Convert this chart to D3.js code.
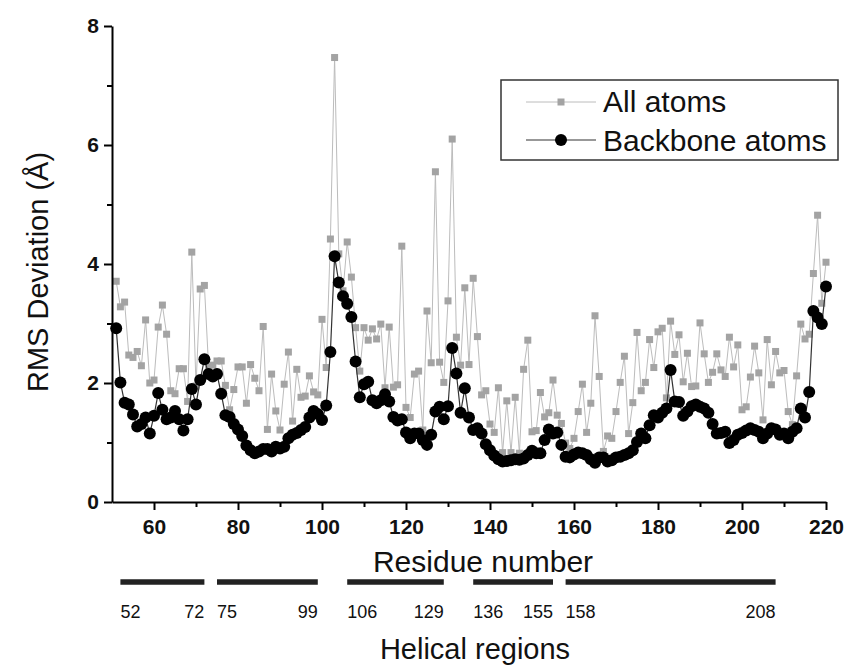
<!DOCTYPE html>
<html lang="en">
<head>
<meta charset="UTF-8">
<title>RMS Deviation per residue</title>
<script src="https://d3js.org/d3.v7.min.js"></script>
<style>
  body { margin: 0; background: #fff; }
  text { font-family: "Liberation Sans", Arial, sans-serif; fill: #111; }
</style>
</head>
<body>
<svg id="chart"></svg>
<script>
// residue numbers along the x axis
const residues = [
  51, 52, 53, 54, 55, 56, 57, 58, 59, 60, 61, 62, 63, 64, 65, 66, 67, 68, 69, 70,
  71, 72, 73, 74, 75, 76, 77, 78, 79, 80, 81, 82, 83, 84, 85, 86, 87, 88, 89, 90,
  91, 92, 93, 94, 95, 96, 97, 98, 99, 100, 101, 102, 103, 104, 105, 106, 107, 108, 109, 110,
  111, 112, 113, 114, 115, 116, 117, 118, 119, 120, 121, 122, 123, 124, 125, 126, 127, 128, 129, 130,
  131, 132, 133, 134, 135, 136, 137, 138, 139, 140, 141, 142, 143, 144, 145, 146, 147, 148, 149, 150,
  151, 152, 153, 154, 155, 156, 157, 158, 159, 160, 161, 162, 163, 164, 165, 166, 167, 168, 169, 170,
  171, 172, 173, 174, 175, 176, 177, 178, 179, 180, 181, 182, 183, 184, 185, 186, 187, 188, 189, 190,
  191, 192, 193, 194, 195, 196, 197, 198, 199, 200, 201, 202, 203, 204, 205, 206, 207, 208, 209, 210,
  211, 212, 213, 214, 215, 216, 217, 218, 219, 220
];

// RMS deviation, all atoms
const allAtoms = [
  3.71, 3.28, 3.36, 2.47, 2.43, 2.53, 2.29, 3.06, 2.00, 2.05, 2.94, 3.31, 2.82, 1.87, 1.82, 2.24, 2.24, 1.69, 4.20, 1.95,
  3.58, 3.64, 2.27, 2.30, 2.37, 2.37, 1.96, 1.55, 1.89, 2.27, 2.27, 1.66, 2.31, 2.08, 1.87, 2.95, 1.22, 2.15, 1.53, 1.21,
  1.98, 2.52, 1.36, 2.23, 1.76, 1.78, 2.12, 1.85, 1.80, 3.07, 2.26, 4.42, 7.47, 4.17, 3.55, 4.37, 3.78, 2.93, 2.20, 2.93,
  2.72, 2.91, 2.74, 2.99, 1.92, 2.94, 1.93, 1.97, 4.30, 1.59, 1.42, 2.15, 2.20, 1.21, 3.21, 2.34, 5.55, 2.35, 2.01, 3.38,
  6.10, 2.77, 2.30, 3.60, 2.31, 3.76, 2.78, 1.80, 1.87, 1.31, 1.17, 1.92, 0.83, 1.70, 0.83, 1.76, 0.82, 2.23, 2.72, 1.18,
  1.20, 1.84, 1.43, 1.50, 2.05, 1.46, 1.32, 0.99, 0.90, 1.07, 1.52, 1.98, 1.17, 1.66, 3.13, 2.11, 0.85, 1.11, 1.07, 1.52,
  2.01, 2.45, 1.15, 1.67, 2.85, 1.87, 2.01, 2.73, 2.26, 2.86, 2.92, 1.75, 3.04, 2.48, 2.81, 2.02, 2.50, 1.94, 1.95, 3.01,
  2.49, 2.01, 2.18, 2.49, 2.22, 2.11, 2.77, 2.27, 2.64, 1.55, 1.60, 2.10, 2.62, 2.17, 1.38, 2.73, 1.97, 2.53, 2.17, 2.21,
  1.52, 1.30, 2.12, 2.99, 2.74, 2.82, 3.84, 4.82, 3.34, 4.03
];

// RMS deviation, backbone atoms
const backbone = [
  2.92, 2.01, 1.67, 1.64, 1.47, 1.27, 1.31, 1.42, 1.15, 1.45, 1.83, 1.55, 1.39, 1.42, 1.53, 1.39, 1.20, 1.39, 1.90, 1.64,
  2.05, 2.40, 2.15, 2.11, 2.15, 1.82, 1.46, 1.43, 1.31, 1.22, 1.11, 0.95, 0.87, 0.82, 0.85, 0.89, 0.89, 0.85, 0.93, 0.90,
  0.93, 1.07, 1.13, 1.16, 1.21, 1.26, 1.42, 1.53, 1.48, 1.38, 1.62, 2.52, 4.13, 3.69, 3.46, 3.33, 3.11, 2.36, 1.76, 1.98,
  2.02, 1.71, 1.66, 1.71, 1.81, 1.69, 1.43, 1.37, 1.39, 1.17, 1.07, 1.15, 1.15, 1.04, 0.96, 1.13, 1.52, 1.60, 1.39, 1.61,
  2.59, 2.16, 1.50, 1.91, 1.42, 1.21, 1.24, 1.15, 0.97, 0.87, 0.78, 0.72, 0.68, 0.69, 0.70, 0.72, 0.71, 0.73, 0.79, 0.86,
  0.82, 0.82, 1.04, 1.22, 1.15, 1.17, 0.96, 0.76, 0.75, 0.80, 0.83, 0.82, 0.79, 0.72, 0.66, 0.75, 0.75, 0.68, 0.70, 0.75,
  0.76, 0.79, 0.82, 0.87, 1.01, 1.15, 1.07, 1.29, 1.46, 1.42, 1.50, 1.57, 2.22, 1.69, 1.68, 1.45, 1.52, 1.61, 1.64, 1.60,
  1.57, 1.50, 1.31, 1.15, 1.16, 1.18, 0.99, 1.04, 1.13, 1.16, 1.20, 1.24, 1.21, 1.18, 1.07, 1.15, 1.24, 1.22, 1.13, 1.15,
  1.07, 1.18, 1.24, 1.57, 1.42, 1.85, 3.21, 3.10, 2.99, 3.62
];

const xTicks = [60, 80, 100, 120, 140, 160, 180, 200, 220];
const xMinor = [70, 90, 110, 130, 150, 170, 190, 210];
const yTicks = [0, 2, 4, 6, 8];
const yMinor = [1, 3, 5, 7];

// helical regions (start / end residue)
const helixStart = [52, 75, 106, 136, 158];
const helixEnd = [72, 99, 129, 155, 208];

const width = 851;
const height = 666;

const svg = d3.select('#chart')
  .attr('width', width)
  .attr('height', height);

const x = d3.scaleLinear().domain([50, 220]).range([112, 826]);
const y = d3.scaleLinear().domain([0, 8]).range([502, 26]);

// series lines + markers (gray first, black on top)
const allPts = residues.map((r, i) => ({ r: r, v: allAtoms[i] }));
const bbPts = residues.map((r, i) => ({ r: r, v: backbone[i] }));

const line = d3.line().x(d => x(d.r)).y(d => y(d.v));

svg.append('path')
  .datum(allPts)
  .attr('d', line)
  .attr('fill', 'none')
  .attr('stroke', '#bcbcbc')
  .attr('stroke-width', 1);

svg.selectAll('.sq')
  .data(allPts)
  .enter().append('rect')
  .attr('class', 'sq')
  .attr('x', d => x(d.r) - 3.5)
  .attr('y', d => y(d.v) - 3.5)
  .attr('width', 7)
  .attr('height', 7)
  .attr('fill', '#a3a3a3');

svg.append('path')
  .datum(bbPts)
  .attr('d', line)
  .attr('fill', 'none')
  .attr('stroke', '#333')
  .attr('stroke-width', 1.2);

svg.selectAll('.dot')
  .data(bbPts)
  .enter().append('circle')
  .attr('class', 'dot')
  .attr('cx', d => x(d.r))
  .attr('cy', d => y(d.v))
  .attr('r', 6)
  .attr('fill', '#000');

// axes
svg.append('g')
  .attr('transform', 'translate(0,502)')
  .call(d3.axisBottom(x).tickValues(xTicks).tickSize(8).tickSizeOuter(0).tickPadding(9));
svg.append('g')
  .attr('transform', 'translate(0,502)')
  .call(d3.axisBottom(x).tickValues(xMinor).tickSize(5).tickSizeOuter(0).tickFormat(''))
  .select('.domain').remove();

svg.append('g')
  .attr('transform', 'translate(112,0)')
  .call(d3.axisLeft(y).tickValues(yTicks).tickSize(8).tickSizeOuter(0).tickPadding(5));
svg.append('g')
  .attr('transform', 'translate(112,0)')
  .call(d3.axisLeft(y).tickValues(yMinor).tickSize(5).tickSizeOuter(0).tickFormat(''))
  .select('.domain').remove();

svg.selectAll('.domain').attr('stroke', '#000').attr('stroke-width', 2);
svg.selectAll('.tick line').attr('stroke', '#000').attr('stroke-width', 2);
svg.selectAll('.tick text')
  .attr('font-family', '"Liberation Sans", Arial, sans-serif')
  .attr('font-size', 21)
  .attr('font-weight', 'bold')
  .attr('fill', '#111');

// axis titles
svg.append('text')
  .attr('transform', 'translate(48,272) rotate(-90)')
  .attr('text-anchor', 'middle')
  .attr('font-size', 29)
  .text('RMS Deviation (Å)');

svg.append('text')
  .attr('x', 483)
  .attr('y', 572)
  .attr('text-anchor', 'middle')
  .attr('font-size', 30)
  .text('Residue number');

// helical region bars
const helices = helixStart.map((s, i) => ({ s: s, e: helixEnd[i] }));

svg.selectAll('.helix')
  .data(helices)
  .enter().append('line')
  .attr('class', 'helix')
  .attr('x1', d => x(d.s))
  .attr('x2', d => x(d.e))
  .attr('y1', 582)
  .attr('y2', 582)
  .attr('stroke', '#222')
  .attr('stroke-width', 5.5);

svg.selectAll('.hs')
  .data(helices)
  .enter().append('text')
  .attr('x', d => x(d.s))
  .attr('y', 618)
  .attr('font-size', 18)
  .text(d => d.s);

svg.selectAll('.he')
  .data(helices)
  .enter().append('text')
  .attr('x', d => x(d.e))
  .attr('y', 618)
  .attr('text-anchor', 'end')
  .attr('font-size', 18)
  .text(d => d.e);

svg.append('text')
  .attr('x', 475)
  .attr('y', 659)
  .attr('text-anchor', 'middle')
  .attr('font-size', 29)
  .text('Helical regions');

// legend
const legend = svg.append('g');
legend.append('rect')
  .attr('x', 501)
  .attr('y', 80)
  .attr('width', 337)
  .attr('height', 80)
  .attr('fill', '#fff')
  .attr('stroke', '#333')
  .attr('stroke-width', 1.5);

legend.append('line')
  .attr('x1', 526).attr('x2', 596).attr('y1', 102).attr('y2', 102)
  .attr('stroke', '#bcbcbc').attr('stroke-width', 1);
legend.append('rect')
  .attr('x', 557.5).attr('y', 98.5).attr('width', 7).attr('height', 7)
  .attr('fill', '#a3a3a3');
legend.append('text')
  .attr('x', 603).attr('y', 112)
  .attr('font-size', 30)
  .text('All atoms');

legend.append('line')
  .attr('x1', 526).attr('x2', 596).attr('y1', 140).attr('y2', 140)
  .attr('stroke', '#333').attr('stroke-width', 1.2);
legend.append('circle')
  .attr('cx', 561).attr('cy', 140).attr('r', 6)
  .attr('fill', '#000');
legend.append('text')
  .attr('x', 603).attr('y', 151)
  .attr('font-size', 30)
  .text('Backbone atoms');
</script>
</body>
</html>
